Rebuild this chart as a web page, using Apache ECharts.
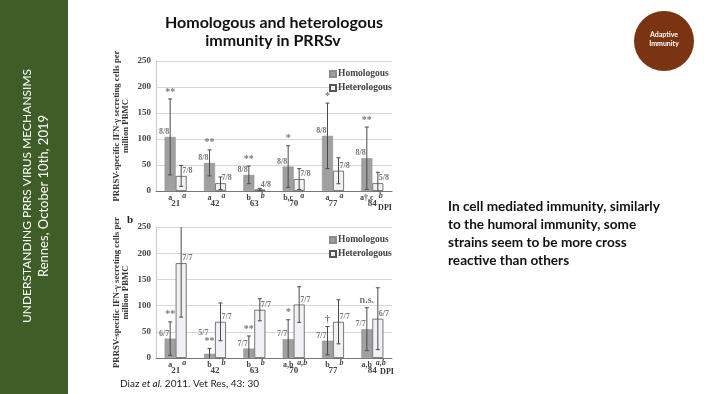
<!DOCTYPE html>
<html><head><meta charset="utf-8">
<script src="https://cdn.jsdelivr.net/npm/echarts@6/dist/echarts.min.js"></script>
<style>html,body{margin:0;padding:0;background:#fff}#c{width:704px;height:394px}</style>
</head><body><div id="c"></div>
<script>
// ---- data ----
const categories = ['21', '42', '63', '70', '77', '84'];
const yMin = 0, yMax = 250, yStep = 50;

const topHomo = [104, 54, 31, 47, 106, 63];
const topHomoSD = [73, 25, 17, 40, 63, 60];
const topHetero = [29, 15, 3, 23, 39, 15];
const topHeteroSD = [20, 12, 2, 20, 25, 21];
const topHomoCount = ['8/8', '8/8', '8/8', '8/8', '8/8', '8/8'];
const topHeteroCount = ['7/8', '7/8', '4/8', '7/8', '7/8', '5/8'];
const topSig = ['**', '**', '**', '*', '*', '**'];
const topHomoLetter = ['a', 'a', 'b', 'b,c', 'a', 'a\u2020,c'];
const topHeteroLetter = ['a', 'a', 'b', 'a', 'a', 'b'];

const botHomo = [37, 8, 18, 36, 33, 55];
const botHomoSD = [32, 10, 24, 37, 27, 41];
const botHetero = [181, 69, 92, 102, 69, 75];
const botHeteroSD = [103, 36, 21, 34, 42, 59];
const botHomoCount = ['6/7', '5/7', '7/7', '7/7', '7/7', '7/7'];
const botHeteroCount = ['7/7', '7/7', '7/7', '7/7', '7/7', '6/7'];
const botSig = ['**', '**', '**', '*', '\u2020', 'n.s.'];
const botHomoLetter = ['a', 'b', 'b', 'a,b', 'b', 'a,b'];
const botHeteroLetter = ['a', 'b', 'b', 'a,b', 'b', 'a,b'];

const seriesNames = ['Homologous', 'Heterologous'];
const yAxisTitle = 'PRRSV-specific IFN-\u03b3 secreting cells per\nmillion PBMC';

// ---- styling ----
const SERIF = '"Liberation Serif","DejaVu Serif",serif';
const SANS = 'Lato,"Open Sans",sans-serif';
const HOMO_COLOR = '#a0a0a0';
const HET_COLOR = '#f2f2f6';
const BAR_W = 11;

function annotations(homo, homoSD, het, hetSD, homoCnt, hetCnt, sig, homoLet, hetLet) {
  return function (params, api) {
    const i = params.dataIndex;
    const base = api.coord([i, 0]);
    const cx = base[0], y0 = base[1];
    const xh = cx - BAR_W / 2, xe = cx + BAR_W / 2;
    const children = [];
    const errStroke = { stroke: '#4a4a4a', lineWidth: 1 };
    function err(x, m, sd) {
      const hiV = m + sd, loV = Math.max(m - sd, yMin);
      const yTop = api.coord([i, Math.min(hiV, yMax)])[1];
      const yBot = api.coord([i, loV])[1];
      children.push({ type: 'line', shape: { x1: x, y1: yTop, x2: x, y2: yBot }, style: errStroke });
      if (hiV <= yMax) children.push({ type: 'line', shape: { x1: x - 2, y1: yTop, x2: x + 2, y2: yTop }, style: errStroke });
      if (m - sd > yMin) children.push({ type: 'line', shape: { x1: x - 2, y1: yBot, x2: x + 2, y2: yBot }, style: errStroke });
      return yTop;
    }
    const topH = err(xh, homo[i], homoSD[i]);
    err(xe, het[i], hetSD[i]);
    const txt = (x, y, t, align, vAlign, size, color, italic) => children.push({
      type: 'text', x: x, y: y,
      style: { text: t, textAlign: align, textVerticalAlign: vAlign, fill: color || '#666',
        font: (italic ? 'italic ' : '') + 'bold ' + size + 'px ' + SERIF }
    });
    // significance marker above homologous error bar
    const sigY = topH - 2;
    txt(xh, sigY, sig[i], 'center', 'bottom', 10, '#777');
    // counts: move the homologous count above the marker when they would collide
    const barTopH = api.coord([i, homo[i]])[1];
    let cntY = barTopH - 1;
    if (cntY - 8 < sigY && cntY > sigY - 9) cntY = sigY - 10;
    txt(xh - 1, cntY, homoCnt[i], 'right', 'bottom', 8, '#777');
    const barTopE = api.coord([i, het[i]])[1];
    txt(xe + 1, barTopE - 1, hetCnt[i], 'left', 'bottom', 8, '#777');
    // letters under the axis
    txt(xh, y0 + 3, homoLet[i], 'center', 'top', 8, '#444', false);
    txt(xe + 3, y0 + 1, hetLet[i], 'center', 'top', 8, '#444', true);
    return { type: 'group', children: children };
  };
}

function yAxisCfg(gi) {
  return {
    gridIndex: gi, type: 'value', min: yMin, max: yMax, interval: yStep,
    axisLine: { show: true, lineStyle: { color: '#c8c8c8' } }, axisTick: { show: false },
    splitLine: { lineStyle: { color: '#d8d8d8' } },
    axisLabel: { fontFamily: SERIF, fontWeight: 'bold', fontSize: 9, color: '#444', margin: 5 },
    name: yAxisTitle, nameLocation: 'middle', nameRotate: 90, nameGap: 26,
    nameTextStyle: { fontFamily: SERIF, fontWeight: 'bold', fontSize: 8.7, lineHeight: 8.5, color: '#333' }
  };
}
function xAxisCfg(gi) {
  return {
    gridIndex: gi, type: 'category', data: categories,
    axisLine: { lineStyle: { color: '#777' } }, axisTick: { show: false },
    axisLabel: { fontFamily: SERIF, fontWeight: 'bold', fontSize: 9, color: '#444', margin: 8 }
  };
}
function legendCfg(top) {
  return {
    left: 324, top: top, orient: 'vertical', icon: 'rect', itemWidth: 6, itemHeight: 6, itemGap: 4,
    textStyle: { fontFamily: SERIF, fontWeight: 'bold', fontSize: 9.5, color: '#444', padding: [0, 0, 0, -3] },
    data: seriesNames, selectedMode: false
  };
}
function barSeries(name, data, gi, color, border, bw) {
  return {
    name: name, type: 'bar', xAxisIndex: gi, yAxisIndex: gi, data: data,
    barWidth: BAR_W, barGap: '0%', itemStyle: { color: color, borderColor: border, borderWidth: bw },
    silent: true, animation: false
  };
}

const chart = echarts.init(document.getElementById('c'), null, { renderer: 'canvas' });
chart.setOption({
  animation: false,
  backgroundColor: '#ffffff',
  grid: [
    { left: 156, top: 61, width: 236, height: 130 },
    { left: 156, top: 227, width: 236, height: 131 }
  ],
  xAxis: [xAxisCfg(0), xAxisCfg(1)],
  yAxis: [yAxisCfg(0), yAxisCfg(1)],
  legend: [legendCfg(64), legendCfg(230)],
  series: [
    barSeries(seriesNames[0], topHomo, 0, HOMO_COLOR, '#8c8c8c', 0.5),
    barSeries(seriesNames[1], topHetero, 0, HET_COLOR, '#555', 0.8),
    barSeries(seriesNames[0], botHomo, 1, HOMO_COLOR, '#8c8c8c', 0.5),
    barSeries(seriesNames[1], botHetero, 1, HET_COLOR, '#555', 0.8),
    { type: 'custom', xAxisIndex: 0, yAxisIndex: 0, clip: false, z: 5, silent: true,
      data: categories.map((c, i) => [i, topHomo[i]]),
      renderItem: annotations(topHomo, topHomoSD, topHetero, topHeteroSD, topHomoCount, topHeteroCount, topSig, topHomoLetter, topHeteroLetter) },
    { type: 'custom', xAxisIndex: 1, yAxisIndex: 1, clip: false, z: 5, silent: true,
      data: categories.map((c, i) => [i, botHomo[i]]),
      renderItem: annotations(botHomo, botHomoSD, botHetero, botHeteroSD, botHomoCount, botHeteroCount, botSig, botHomoLetter, botHeteroLetter) }
  ],
  graphic: [
    { type: 'rect', left: 0, top: 0, shape: { width: 68, height: 394 }, style: { fill: '#3e5d27' }, silent: true },
    { type: 'text', x: 27, y: 196, rotation: Math.PI / 2,
      style: { text: 'UNDERSTANDING PRRS VIRUS MECHANSIMS', textAlign: 'center', textVerticalAlign: 'middle', fill: '#ffffff', font: '12px ' + SANS } },
    { type: 'text', x: 44, y: 196, rotation: Math.PI / 2,
      style: { text: 'Rennes, October 10th, 2019', textAlign: 'center', textVerticalAlign: 'middle', fill: '#ffffff', font: '13px ' + SANS } },
    { type: 'circle', shape: { cx: 664, cy: 41, r: 30 }, style: { fill: '#7a3412' }, silent: true },
    { type: 'text', x: 664, y: 35, style: { text: 'Adaptive', textAlign: 'center', textVerticalAlign: 'middle', fill: '#ffffff', font: 'bold 7px ' + SANS } },
    { type: 'text', x: 664, y: 44, style: { text: 'Immunity', textAlign: 'center', textVerticalAlign: 'middle', fill: '#ffffff', font: 'bold 7px ' + SANS } },
    { type: 'text', x: 274, y: 23, style: { text: 'Homologous and heterologous', textAlign: 'center', textVerticalAlign: 'middle', fill: '#111', font: 'bold 16px ' + SANS } },
    { type: 'text', x: 273, y: 41, style: { text: 'immunity in PRRSv', textAlign: 'center', textVerticalAlign: 'middle', fill: '#111', font: 'bold 16px ' + SANS } },
    { type: 'text', x: 448, y: 198, style: { text: 'In cell mediated immunity, similarly\nto the humoral immunity, some\nstrains seem to be more cross\nreactive than others', fill: '#111', font: 'bold 13.6px ' + SANS, lineHeight: 18 } },
    { type: 'text', x: 120, y: 384, style: { text: '{n|Diaz }{i|et al.}{n| 2011. Vet Res, 43: 30}', textVerticalAlign: 'middle', fill: '#222',
        rich: { n: { fontFamily: SANS, fontSize: 10, fill: '#222' }, i: { fontFamily: SANS, fontSize: 10, fontStyle: 'italic', fill: '#222' } } } },
    { type: 'text', x: 130, y: 220, style: { text: 'b', textAlign: 'center', textVerticalAlign: 'middle', fill: '#222', font: 'bold 11px ' + SERIF } },
    { type: 'text', x: 385, y: 208, style: { text: 'DPI', textAlign: 'center', textVerticalAlign: 'middle', fill: '#333', font: 'bold 8px ' + SERIF } },
    { type: 'text', x: 387, y: 372, style: { text: 'DPI', textAlign: 'center', textVerticalAlign: 'middle', fill: '#333', font: 'bold 8px ' + SERIF } }
  ]
});
</script>
</body></html>
